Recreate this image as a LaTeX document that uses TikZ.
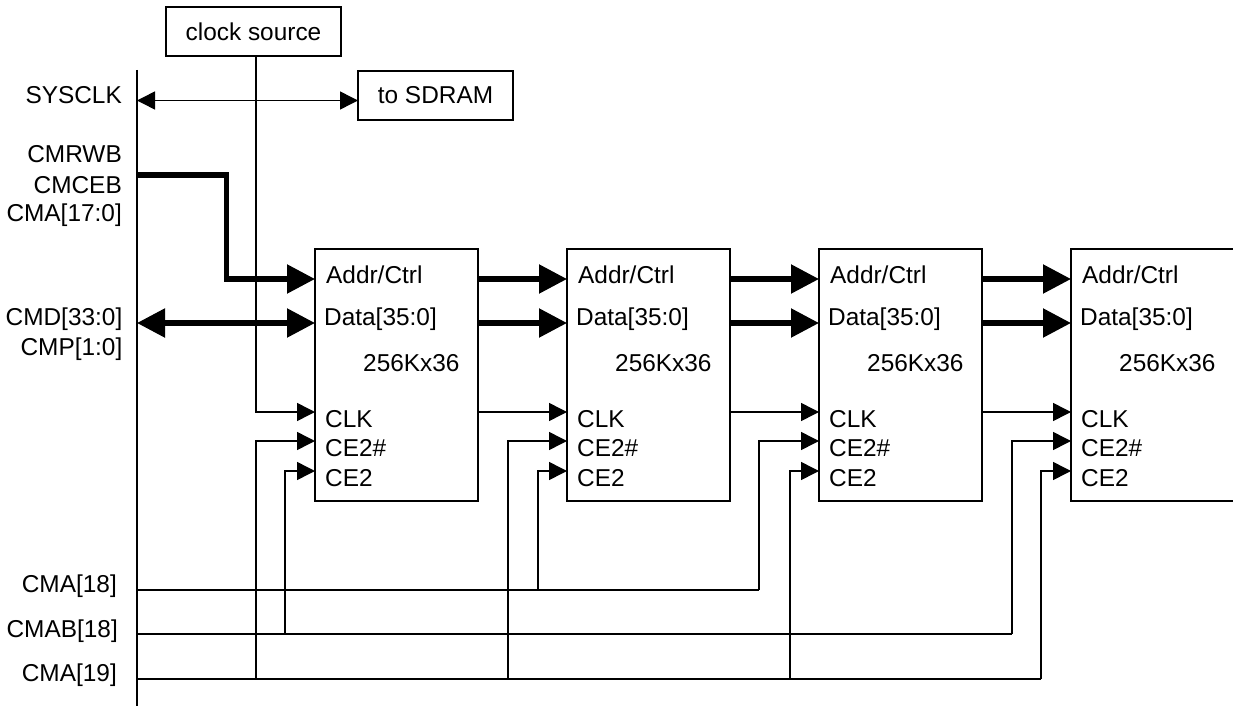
\documentclass[tikz,border=0pt]{standalone}
\usepackage{fontspec}
\setmainfont{Liberation Sans}
\usetikzlibrary{arrows.meta}
\tikzset{
  sig/.style={line width=1.5pt},
  sigarrow/.style={sig, -{Triangle[length=18pt,width=18pt]}},
  sigboth/.style={sig, {Triangle[length=18pt,width=18pt]}-{Triangle[length=18pt,width=18pt]}},
  bus/.style={line width=5.3pt},
  busarrow/.style={bus, -{Triangle[length=28pt,width=28pt]}},
  busboth/.style={bus, {Triangle[length=28pt,width=28pt]}-{Triangle[length=28pt,width=28pt]}},
  chip/.style={draw, line width=1.5pt, minimum width=163pt, minimum height=252pt, inner sep=0pt, outer sep=0pt, anchor=north west},
  box/.style={draw, line width=1.5pt, inner sep=0pt, outer sep=0pt, anchor=north west},
  lbl/.style={inner sep=0pt, anchor=east},
  pin/.style={inner sep=0pt, anchor=west}
}
\begin{document}
\begin{tikzpicture}[x=1pt, y=-1pt, font=\fontsize{24.4}{29}\selectfont]
\useasboundingbox (0,0) rectangle (1233,706);
\foreach \name/\xpos in {a/315, b/567, c/819, d/1071} {
  \node[chip] (chip\name) at (\xpos,249) {};
  \path (chip\name.north west)
    ++(0,30)  coordinate (addr\name)
    ++(0,44)  coordinate (data\name)
    ++(0,89)  coordinate (clk\name)
    ++(0,29)  coordinate (cen\name)
    ++(0,30)  coordinate (ce\name);
  \node[pin] (addrtxt\name) at ([xshift=11pt,yshift=4pt]addr\name) {Addr/Ctrl};
  \node[pin] (datatxt\name) at ([xshift=9pt,yshift=4pt]data\name) {Data[35:0]};
  \node[pin] (sizetxt\name) at ([xshift=48pt,yshift=49pt]clk\name) {256Kx36};
  \node[pin] (clktxt\name) at ([xshift=10pt,yshift=-7pt]clk\name) {CLK};
  \node[pin] (centxt\name) at ([xshift=10pt,yshift=-7pt]cen\name) {CE2\#};
  \node[pin] (cetxt\name) at ([xshift=10pt,yshift=-7pt]ce\name) {CE2};
}
\node[box, minimum width=175pt, minimum height=49pt] (clock) at (166,7) {clock source};
\node[box, minimum width=155pt, minimum height=49pt] (sdram) at (358,71) {to SDRAM};

\node[lbl] (sysclk) at (122,95) {SYSCLK};
\node[lbl] (cmrwb) at (122,154) {CMRWB};
\node[lbl] (cmceb) at (122,185) {CMCEB};
\node[lbl] (cmalow) at (122,215) {CMA[17:0]};
\node[lbl] (cmd) at (122.5,319) {CMD[33:0]};
\node[lbl] (cmp) at (122.5,349) {CMP[1:0]};
\node[lbl] (cma18) at (117,586) {CMA[18]};
\node[lbl] (cmab18) at (118,631) {CMAB[18]};
\node[lbl] (cma19) at (117,675) {CMA[19]};

\coordinate (railtop) at (137,70);
\coordinate (railend) at (137,706);
\coordinate (railclk) at (137,100.5);
\coordinate (railctl) at (137,175);
\coordinate (raildata) at (137,323);
\coordinate (railx) at (137,590);
\coordinate (raily) at (137,634);
\coordinate (railz) at (137,679);
\draw[sig] (railtop) -- (railend);

\draw[sigboth] (railclk) -- (railclk -| sdram.west);
\draw[busarrow] (railctl) -| (226.5,279) -- (addra);
\draw[busboth] (raildata) -- (dataa);
\draw[sigarrow] (clock.south -| 256,0) |- (clka);

\foreach \from/\to in {a/b, b/c, c/d} {
  \draw[busarrow] (addr\from -| chip\from.east) -- (addr\to);
  \draw[busarrow] (data\from -| chip\from.east) -- (data\to);
  \draw[sigarrow] (clk\from -| chip\from.east) -- (clk\to);
}

\draw[sig] (railx) -- (759,590);
\draw[sig] (raily) -- (1012,634);
\draw[sig] (railz) -- (1041,679);

\draw[sigarrow] (256,679) |- (cena);
\draw[sigarrow] (285,634) |- (cea);
\draw[sigarrow] (508,679) |- (cenb);
\draw[sigarrow] (538,590) |- (ceb);
\draw[sigarrow] (759,590) |- (cenc);
\draw[sigarrow] (790,679) |- (cec);
\draw[sigarrow] (1012,634) |- (cend);
\draw[sigarrow] (1041,679) |- (ced);
\end{tikzpicture}
\end{document}
